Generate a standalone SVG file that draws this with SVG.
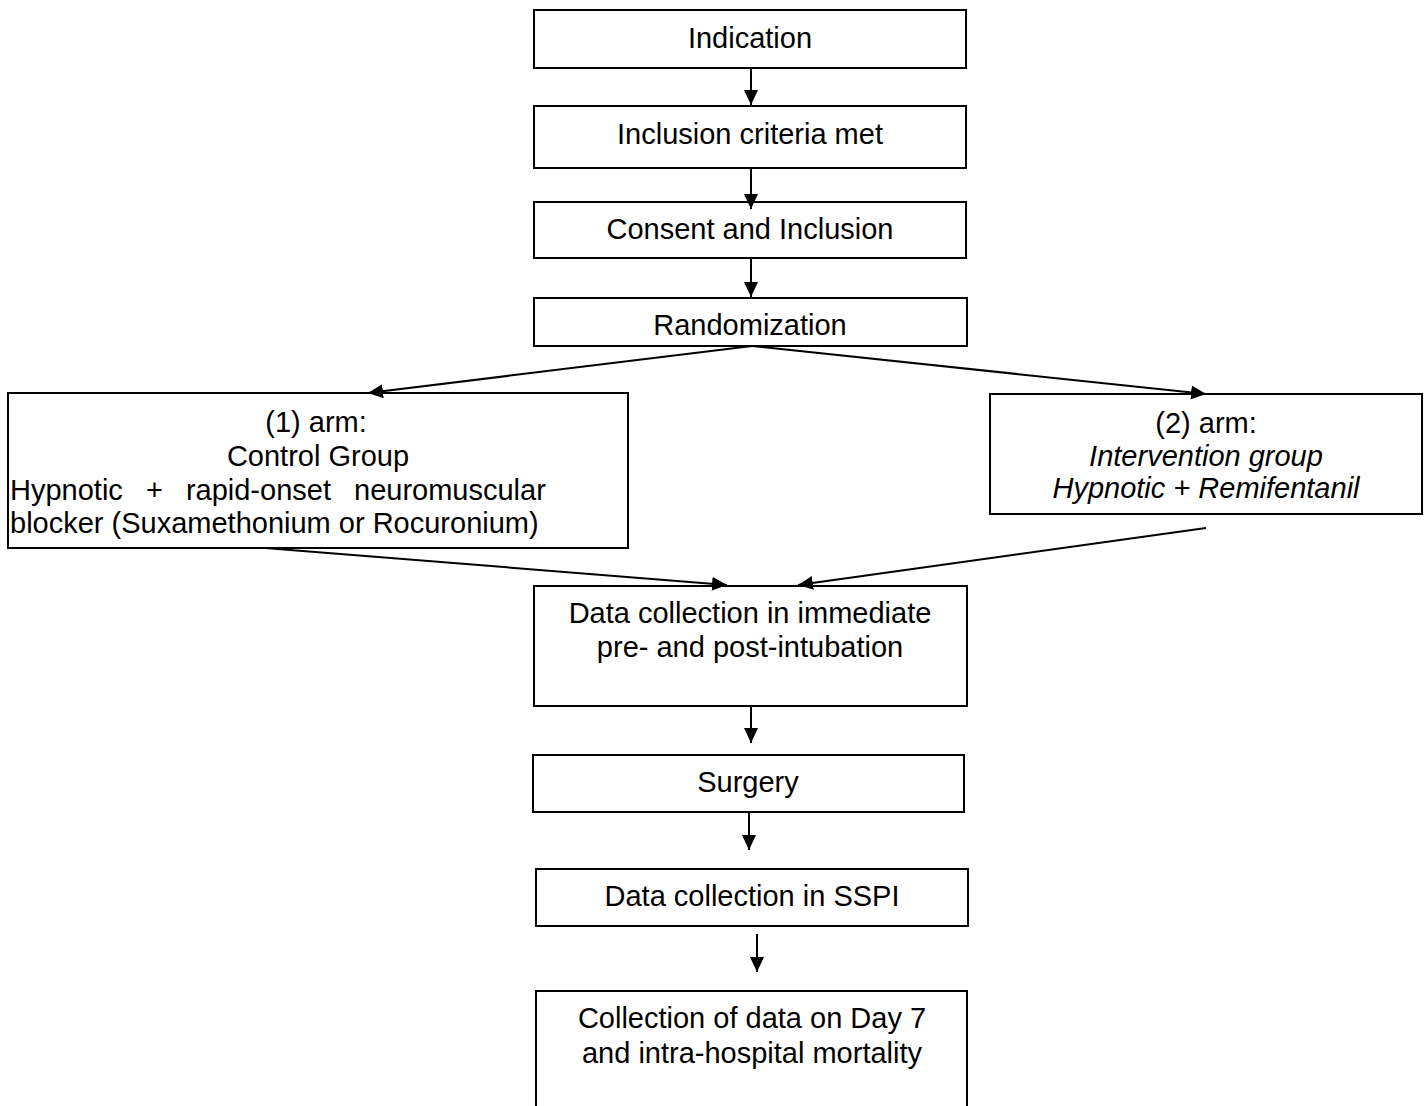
<svg xmlns="http://www.w3.org/2000/svg" width="1426" height="1106" viewBox="0 0 1426 1106">
<style>
.box{fill:#fff;stroke:#000;stroke-width:2}
.t{font-family:"Liberation Sans",Arial,sans-serif;font-size:29px;fill:#000}
.c{text-anchor:middle}
.i{font-style:italic}
.con{stroke:#000;stroke-width:2;fill:none;marker-end:url(#ah)}
</style>
<defs>
<marker id="ah" markerUnits="userSpaceOnUse" markerWidth="15" markerHeight="14" refX="15" refY="7" orient="auto">
<path d="M0,0 L15,7 L0,14 z" fill="#000"/>
</marker>
</defs>
<rect width="1426" height="1106" fill="#fff"/>
<g id="n-indication"><rect class="box" x="534" y="10" width="432" height="58"/><text class="t c" x="750" y="48">Indication</text></g>
<g id="n-inclusion"><rect class="box" x="534" y="106" width="432" height="62"/><text class="t c" x="750" y="144">Inclusion criteria met</text></g>
<g id="n-consent"><rect class="box" x="534" y="202" width="432" height="56"/><text class="t c" x="750" y="239">Consent and Inclusion</text></g>
<g id="n-random"><rect class="box" x="534" y="298" width="433" height="48"/><text class="t c" x="750" y="335">Randomization</text></g>
<g id="n-arm1"><rect class="box" x="8" y="393" width="620" height="155"/>
<text class="t c" x="316" y="432">(1) arm:</text>
<text class="t c" x="318" y="466">Control Group</text>
<text class="t" x="10" y="499.5" word-spacing="15">Hypnotic + rapid-onset neuromuscular</text>
<text class="t" x="10" y="533">blocker (Suxamethonium or Rocuronium)</text></g>
<g id="n-arm2"><rect class="box" x="990" y="394" width="432" height="120"/>
<text class="t c" x="1206" y="433">(2) arm:</text>
<text class="t c i" x="1206" y="465.5">Intervention group</text>
<text class="t c i" x="1206" y="498">Hypnotic + Remifentanil</text></g>
<g id="n-data1"><rect class="box" x="534" y="586" width="433" height="120"/>
<text class="t c" x="750" y="623">Data collection in immediate</text>
<text class="t c" x="750" y="657">pre- and post-intubation</text></g>
<g id="n-surgery"><rect class="box" x="533" y="755" width="431" height="57"/><text class="t c" x="748" y="792">Surgery</text></g>
<g id="n-sspi"><rect class="box" x="536" y="869" width="432" height="57"/><text class="t c" x="752" y="906">Data collection in SSPI</text></g>
<g id="n-day7"><rect class="box" x="536" y="991" width="431" height="125"/>
<text class="t c" x="752" y="1028">Collection of data on Day 7</text>
<text class="t c" x="752" y="1063">and intra-hospital mortality</text></g>
<g id="connectors">
<line class="con" x1="751" y1="68" x2="751" y2="105"/>
<line class="con" x1="751" y1="168" x2="751" y2="209"/>
<line class="con" x1="751" y1="258" x2="751" y2="297"/>
<line class="con" x1="752" y1="346" x2="368" y2="393"/>
<line class="con" x1="752" y1="346" x2="1206" y2="394"/>
<line class="con" x1="265" y1="548" x2="727" y2="585"/>
<line class="con" x1="1206" y1="528" x2="798" y2="585"/>
<line class="con" x1="751" y1="706" x2="751" y2="743"/>
<line class="con" x1="749" y1="813" x2="749" y2="850"/>
<line class="con" x1="757" y1="934" x2="757" y2="972"/>
</g>
</svg>
